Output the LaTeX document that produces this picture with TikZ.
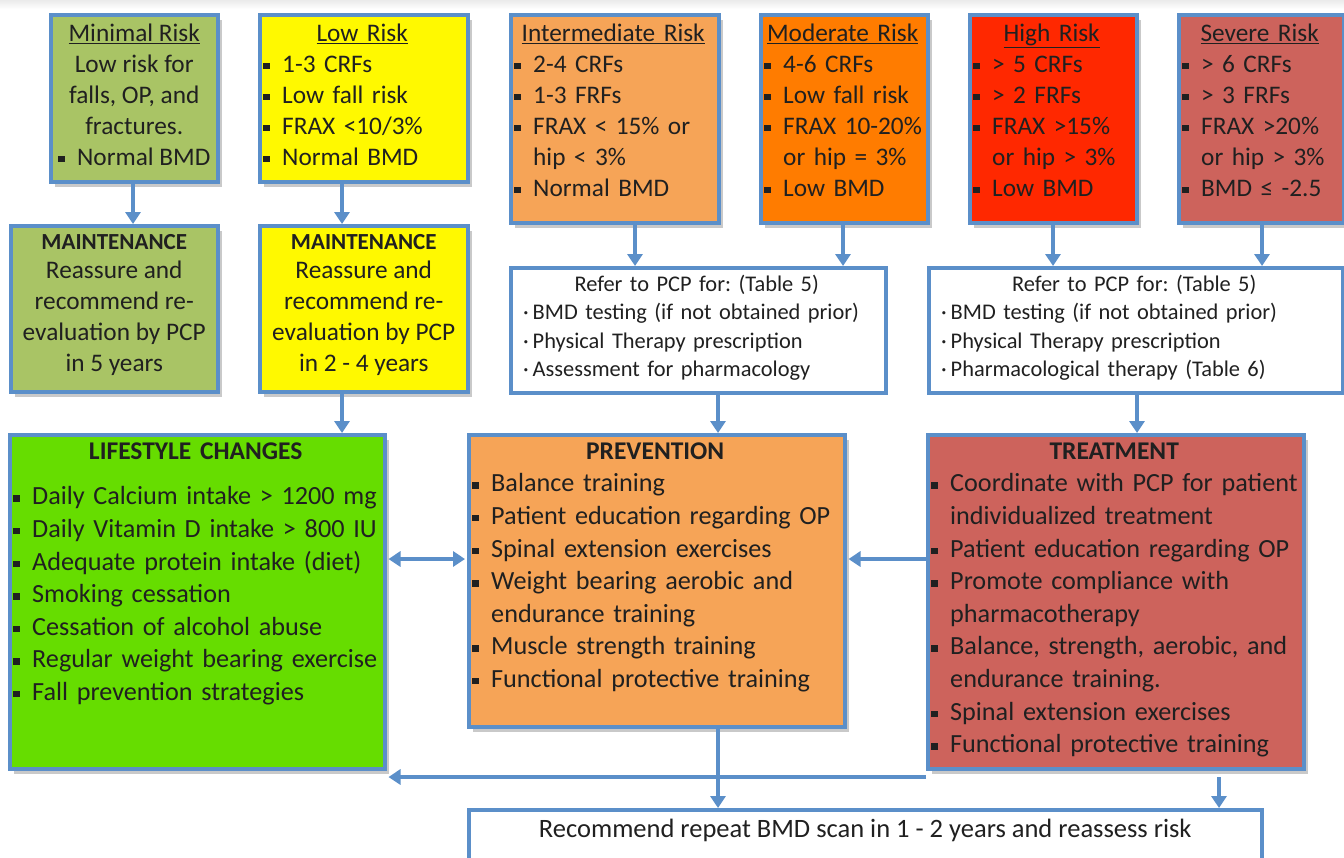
\documentclass[tikz,border=0pt]{standalone}
\usepackage{fontspec}
\setmainfont{Carlito}
\usetikzlibrary{arrows.meta,shadows}
\frenchspacing
\definecolor{bcol}{RGB}{91,143,201}
\definecolor{acol}{RGB}{91,143,201}
\definecolor{tcol}{RGB}{32,32,32}
\definecolor{cmin}{RGB}{169,196,101}
\definecolor{clow}{RGB}{255,249,0}
\definecolor{cint}{RGB}{246,164,87}
\definecolor{cmod}{RGB}{255,124,0}
\definecolor{chigh}{RGB}{255,40,0}
\definecolor{csev}{RGB}{205,99,92}
\definecolor{clife}{RGB}{102,221,0}
\newcommand{\bi}[1]{\mbox{\makebox[19pt][l]{\rule[3pt]{6.5pt}{6.5pt}}#1}}
\newcommand{\ci}[1]{\mbox{\hspace*{19pt}#1}}
\newcommand{\di}[1]{\mbox{\makebox[9.5pt][l]{·}#1}}
\newcommand{\ttl}[1]{\makebox[\hsize]{#1}}
\newcommand{\hd}[1]{{\fontsize{23}{28}\selectfont\bfseries #1}}
\newcommand{\hdb}[1]{{\fontsize{25.5}{30}\selectfont\bfseries #1}}
\tikzset{
  bx/.style={draw=bcol, line width=3.5pt, inner sep=0pt, anchor=north west,
    drop shadow={shadow xshift=4pt, shadow yshift=-5pt, fill=black!60, opacity=0.35}},
  bxn/.style={draw=bcol, line width=3.5pt, inner sep=0pt, anchor=north west, fill=white},
  tsm/.style={inner sep=0pt, text=tcol, font=\fontsize{25.3}{31}\selectfont},
  tref/.style={inner sep=0pt, text=tcol, font=\fontsize{22.4}{28.3}\selectfont},
  tbot/.style={inner sep=0pt, text=tcol, font=\fontsize{26.5}{32}\selectfont},
  tbig/.style={inner sep=0pt, text=tcol, font=\fontsize{26.2}{32.6}\selectfont},
  arr/.style={draw=acol, line width=3.5pt, -{Triangle[width=15pt,length=12pt]}},
  arrb/.style={draw=acol, line width=3.5pt, {Triangle[width=15pt,length=12pt]}-{Triangle[width=15pt,length=12pt]}},
}
\begin{document}
\begin{tikzpicture}[x=1pt,y=-1pt]
\useasboundingbox (0,0) rectangle (1344,857);
\fill[white] (0,0) rectangle (1344,857);
\shade[top color=black!8, bottom color=white] (0,0) rectangle (1344,9);

% top row
\node[bx, fill=cmin, minimum width=167pt, minimum height=167pt] (minimal) at (49,13) {};
\node[bx, fill=clow, minimum width=208pt, minimum height=167pt] (low) at (258,13) {};
\node[bx, fill=cint, minimum width=208pt, minimum height=208pt] (inter) at (509,13) {};
\node[bx, fill=cmod, minimum width=167pt, minimum height=208pt] (moder) at (759,13) {};
\node[bx, fill=chigh, minimum width=167pt, minimum height=208pt] (high) at (968,13) {};
\node[bx, fill=csev, minimum width=165pt, minimum height=208pt] (severe) at (1177,13) {};

\node[tsm, anchor=north, align=center] (minimalT) at ([yshift=-6.4pt]minimal.north)
  {\strut\underline{Minimal Risk}\\Low risk for\\falls, OP, and\\fractures.\\\bi{Normal BMD}};
\node[tsm, anchor=north west, text width=198pt, align=left] (lowT) at ([xshift=5pt,yshift=-6.4pt]low.north west)
  {\strut\ttl{\underline{Low Risk}}\\\bi{1-3 CRFs}\\\bi{Low fall risk}\\\bi{FRAX <10/3\%}\\\bi{Normal BMD}};
\node[tsm, anchor=north west, text width=198pt, align=left] (interT) at ([xshift=5pt,yshift=-6.4pt]inter.north west)
  {\strut\ttl{\underline{Intermediate Risk}}\\\bi{2-4 CRFs}\\\bi{1-3 FRFs}\\\bi{FRAX < 15\% or}\\\ci{hip < 3\%}\\\bi{Normal BMD}};
\node[tsm, anchor=north west, text width=157pt, align=left] (moderT) at ([xshift=5pt,yshift=-6.4pt]moder.north west)
  {\strut\ttl{\underline{Moderate Risk}}\\\bi{4-6 CRFs}\\\bi{Low fall risk}\\\bi{FRAX 10-20\%}\\\ci{or hip = 3\%}\\\bi{Low BMD}};
\node[tsm, anchor=north west, text width=157pt, align=left] (highT) at ([xshift=5pt,yshift=-6.4pt]high.north west)
  {\strut\ttl{\underline{High Risk}}\\\bi{> 5 CRFs}\\\bi{> 2 FRFs}\\\bi{FRAX >15\%}\\\ci{or hip > 3\%}\\\bi{Low BMD}};
\node[tsm, anchor=north west, text width=155pt, align=left] (severeT) at ([xshift=5pt,yshift=-6.4pt]severe.north west)
  {\strut\ttl{\underline{Severe Risk}}\\\bi{> 6 CRFs}\\\bi{> 3 FRFs}\\\bi{FRAX >20\%}\\\ci{or hip > 3\%}\\\bi{BMD ≤ -2.5}};

% second row
\node[bx, fill=cmin, minimum width=207pt, minimum height=166pt] (maint1) at (9,224) {};
\node[bx, fill=clow, minimum width=208pt, minimum height=166pt] (maint2) at (258,224) {};
\node[bxn, minimum width=375pt, minimum height=125pt] (refer1) at (509,266) {};
\node[bxn, minimum width=414pt, minimum height=125pt] (refer2) at (927,266) {};

\node[tsm, anchor=north, align=center] (maint1T) at ([yshift=-3.7pt]maint1.north)
  {\strut\hd{MAINTENANCE}\\[-2pt]Reassure and\\recommend re-\\evaluation by PCP\\in 5 years};
\node[tsm, anchor=north, align=center] (maint2T) at ([yshift=-3.7pt]maint2.north)
  {\strut\hd{MAINTENANCE}\\[-2pt]Reassure and\\recommend re-\\evaluation by PCP\\in 2 - 4 years};
\node[tref, anchor=north west, text width=347pt, align=left] (refer1T) at ([xshift=14pt,yshift=-5.6pt]refer1.north west)
  {\strut\ttl{Refer to PCP for: (Table 5)}\\\di{BMD testing (if not obtained prior)}\\\di{Physical Therapy prescription}\\\di{Assessment for pharmacology}};
\node[tref, anchor=north west, text width=386pt, align=left] (refer2T) at ([xshift=14pt,yshift=-5.6pt]refer2.north west)
  {\strut\ttl{Refer to PCP for: (Table 5)}\\\di{BMD testing (if not obtained prior)}\\\di{Physical Therapy prescription}\\\di{Pharmacological therapy (Table 6)}};

% third row
\node[bx, fill=clife, minimum width=375pt, minimum height=334pt] (life) at (8,433) {};
\node[bx, fill=cint, minimum width=376pt, minimum height=292pt] (prev) at (467,433) {};
\node[bx, fill=csev, minimum width=376pt, minimum height=334pt] (treat) at (926,433) {};

\node[tbig, anchor=north west, text width=365pt, align=left] (lifeT) at ([xshift=5pt,yshift=-3.2pt]life.north west)
  {\strut\ttl{\hdb{LIFESTYLE CHANGES}}\\[13pt]\bi{Daily Calcium intake > 1200 mg}\\\bi{Daily Vitamin D intake > 800 IU}\\\bi{Adequate protein intake (diet)}\\\bi{Smoking cessation}\\\bi{Cessation of alcohol abuse}\\\bi{Regular weight bearing exercise}\\\bi{Fall prevention strategies}};
\node[tbig, anchor=north west, text width=366pt, align=left] (prevT) at ([xshift=5pt,yshift=-3.2pt]prev.north west)
  {\strut\ttl{\hdb{PREVENTION}}\\\bi{Balance training}\\\bi{Patient education regarding OP}\\\bi{Spinal extension exercises}\\\bi{Weight bearing aerobic and}\\\ci{endurance training}\\\bi{Muscle strength training}\\\bi{Functional protective training}};
\node[tbig, anchor=north west, text width=366pt, align=left] (treatT) at ([xshift=5pt,yshift=-3.2pt]treat.north west)
  {\strut\ttl{\hdb{TREATMENT}}\\\bi{Coordinate with PCP for patient}\\\ci{individualized treatment}\\\bi{Patient education regarding OP}\\\bi{Promote compliance with}\\\ci{pharmacotherapy}\\\bi{Balance, strength, aerobic, and}\\\ci{endurance training.}\\\bi{Spinal extension exercises}\\\bi{Functional protective training}};

% bottom
\node[bxn, minimum width=793pt, minimum height=80pt] (bottom) at (467,808) {};
\node[tbot, anchor=base] (bottomT) at ([yshift=-29.5pt]bottom.north)
  {Recommend repeat BMD scan in 1 - 2 years and reassess risk};

% helper coordinates
\coordinate (x133) at (133,0);
\coordinate (x342) at (342,0);
\coordinate (x635) at (635,0);
\coordinate (x843) at (843,0);
\coordinate (x1053) at (1053,0);
\coordinate (x1262) at (1262,0);
\coordinate (x718) at (718,0);
\coordinate (x1137) at (1137,0);
\coordinate (x1219) at (1219,0);
\coordinate (y559) at (0,559);
\coordinate (y777) at (0,777);

% connectors
\draw[arr] (x133 |- minimal.south) -- (x133 |- maint1.north);
\draw[arr] (x342 |- low.south) -- (x342 |- maint2.north);
\draw[arr] (x635 |- inter.south) -- (x635 |- refer1.north);
\draw[arr] (x843 |- moder.south) -- (x843 |- refer1.north);
\draw[arr] (x1053 |- high.south) -- (x1053 |- refer2.north);
\draw[arr] (x1262 |- severe.south) -- (x1262 |- refer2.north);
\draw[arr] (x342 |- maint2.south) -- (x342 |- life.north);
\draw[arr] (x718 |- refer1.south) -- (x718 |- prev.north);
\draw[arr] (x1137 |- refer2.south) -- (x1137 |- treat.north);
\draw[arrb] ([xshift=2pt]y559 -| life.east) -- ([xshift=-2pt]y559 -| prev.west);
\draw[arr] (y559 -| treat.west) -- ([xshift=2pt]y559 -| prev.east);
\draw[arr] (y777 -| treat.west) -- ([xshift=2pt]y777 -| life.east);
\draw[arr] (x718 |- prev.south) -- (x718 |- bottom.north);
\draw[arr] (x1219 |- y777) -- (x1219 |- bottom.north);
\end{tikzpicture}
\end{document}
